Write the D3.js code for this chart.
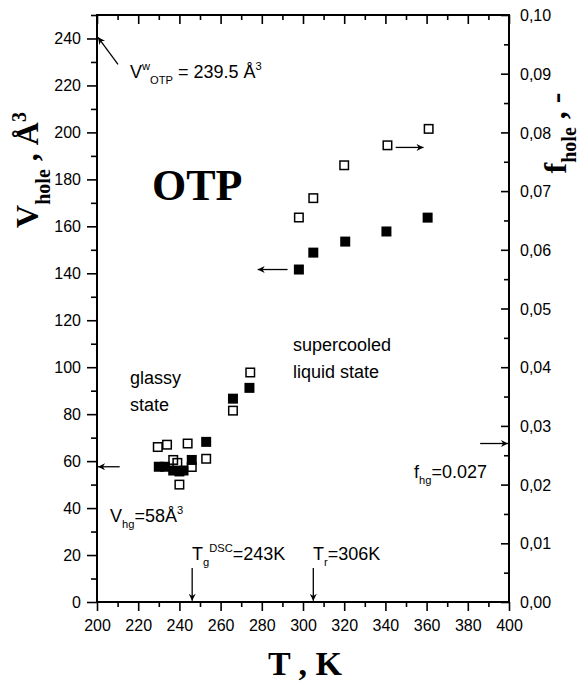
<!DOCTYPE html>
<html>
<head>
<meta charset="utf-8">
<script src="https://cdn.jsdelivr.net/npm/d3@7"></script>
<style>
  body { margin: 0; background: #fff; }
  svg text { font-family: Arial, "Liberation Sans", sans-serif; fill: #000; }
  .serif { font-family: "Times New Roman", "Liberation Serif", serif; font-weight: bold; }
</style>
</head>
<body>
<div id="chart"></div>
<script>
// ---- data ----
// filled squares: hole volume V_hole (left axis, Å^3)
const volT = [230, 233, 237, 240, 242, 246, 253, 266, 274, 298, 305, 320.5, 340.5, 360.5];
const volV = [57.6, 57.6, 56, 55.6, 56, 60.5, 68.2, 86.6, 91.2, 141.6, 148.8, 153.5, 157.8, 163.7];
// open squares: hole fraction f_hole (right axis)
const fracT = [229.5, 234, 244, 237, 239, 240, 246, 253, 266, 274.4, 298, 305, 320, 341, 361];
const fracF = [0.0264, 0.0268, 0.0270, 0.0242, 0.0237, 0.0200, 0.0230, 0.0244, 0.0326, 0.0391, 0.0655, 0.0688, 0.0744, 0.0778, 0.0806];

const xTicks = d3.range(200, 401, 20);
const yTicks = d3.range(0, 241, 20);
const fTicks = d3.range(0, 0.1001, 0.01);

const W = 580, H = 682;
const margin = { top: 15, right: 71, bottom: 80, left: 97 };

const svg = d3.select('#chart').append('svg')
    .attr('width', W).attr('height', H);

const x = d3.scaleLinear().domain([200, 400]).range([margin.left, W - margin.right]);
const y = d3.scaleLinear().domain([0, 250]).range([H - margin.bottom, margin.top]);
const yf = d3.scaleLinear().domain([0, 0.1]).range([H - margin.bottom, margin.top]);

// arrow head
svg.append('defs').append('marker')
    .attr('id', 'head')
    .attr('viewBox', '0 0 10 10')
    .attr('refX', 10).attr('refY', 5)
    .attr('markerWidth', 9).attr('markerHeight', 7)
    .attr('markerUnits', 'userSpaceOnUse')
    .attr('orient', 'auto')
    .append('path').attr('d', 'M0,0 L10,5 L0,10 L3,5 Z').attr('fill', '#000');

// ---- axes ----
const fmtComma = d => d3.format('.2f')(d).replace('.', ',');

const axBottom = svg.append('g')
    .attr('transform', `translate(0,${H - margin.bottom})`)
    .call(d3.axisBottom(x).tickValues(xTicks).tickSize(9).tickPadding(9));
svg.append('g')
    .attr('transform', `translate(0,${H - margin.bottom})`)
    .call(d3.axisBottom(x).tickValues(d3.range(210, 400, 20)).tickSize(5).tickFormat(''));

svg.append('g')
    .attr('transform', `translate(0,${margin.top})`)
    .call(d3.axisBottom(x).tickValues(xTicks).tickSize(9).tickFormat(''));
svg.append('g')
    .attr('transform', `translate(0,${margin.top})`)
    .call(d3.axisBottom(x).tickValues(d3.range(210, 400, 20)).tickSize(5).tickFormat(''));

const axLeft = svg.append('g')
    .attr('transform', `translate(${margin.left},0)`)
    .call(d3.axisLeft(y).tickValues(yTicks).tickSize(10).tickPadding(6));
svg.append('g')
    .attr('transform', `translate(${margin.left},0)`)
    .call(d3.axisLeft(y).tickValues(d3.range(10, 251, 20)).tickSize(6).tickFormat(''));

const axRight = svg.append('g')
    .attr('transform', `translate(${W - margin.right},0)`)
    .call(d3.axisLeft(yf).tickValues(fTicks).tickSize(8).tickFormat(''));
svg.append('g')
    .attr('transform', `translate(${W - margin.right},0)`)
    .call(d3.axisLeft(yf).tickValues(d3.range(0.005, 0.1, 0.01)).tickSize(5).tickFormat(''));
axRight.selectAll('.tick').append('text')
    .attr('x', 11).attr('dy', '0.35em')
    .attr('text-anchor', 'start')
    .style('font-size', '16px')
    .text(d => fmtComma(d));

svg.selectAll('.domain').remove();
svg.selectAll('.tick line').attr('stroke', '#000').attr('stroke-width', 1.6);
axBottom.selectAll('.tick text').style('font-size', '16px').style('font-family', 'Arial, "Liberation Sans", sans-serif');
axLeft.selectAll('.tick text').style('font-size', '16px').style('font-family', 'Arial, "Liberation Sans", sans-serif');

// frame
svg.append('rect')
    .attr('x', margin.left).attr('y', margin.top)
    .attr('width', W - margin.left - margin.right)
    .attr('height', H - margin.top - margin.bottom)
    .attr('fill', 'none').attr('stroke', '#000').attr('stroke-width', 2);

// ---- points ----
const s = 10;
svg.append('g').selectAll('rect')
    .data(volT.map((t, i) => [t, volV[i]]))
    .join('rect')
    .attr('x', d => x(d[0]) - s / 2).attr('y', d => y(d[1]) - s / 2)
    .attr('width', s).attr('height', s)
    .attr('fill', '#000');

svg.append('g').selectAll('rect')
    .data(fracT.map((t, i) => [t, fracF[i]]))
    .join('rect')
    .attr('x', d => x(d[0]) - (s - 1.5) / 2).attr('y', d => yf(d[1]) - (s - 1.5) / 2)
    .attr('width', s - 1.5).attr('height', s - 1.5)
    .attr('fill', 'none').attr('stroke', '#000').attr('stroke-width', 1.5);

// ---- arrows ----
const arrows = [
    [x(210.2), y(229), x(200.5), y(240.5)],
    [x(211), y(57.6), x(200.5), y(57.6)],
    [x(292.5), y(141.6), x(278), y(141.6)],
    [x(345), y(193.6), x(358.5), y(193.6)],
    [x(386), yf(0.027), x(399.5), yf(0.027)],
    [x(246.2), y(14.5), x(246.2), y(0.5)],
    [x(305), y(14.5), x(305), y(0.5)]
];
svg.append('g').selectAll('line')
    .data(arrows)
    .join('line')
    .attr('x1', d => d[0]).attr('y1', d => d[1])
    .attr('x2', d => d[2]).attr('y2', d => d[3])
    .attr('stroke', '#000').attr('stroke-width', 1.3)
    .attr('marker-end', 'url(#head)');

// ---- annotations ----
function rich(xp, yp, parts, size) {
    const t = svg.append('text').attr('x', xp).attr('y', yp).style('font-size', size + 'px');
    let shift = 0;
    parts.forEach(p => {
        const off = p.sub ? 6 : p.sup ? -8 : 0;
        t.append('tspan')
            .attr('dy', off - shift)
            .style('font-size', (p.sub || p.sup ? size * 0.62 : size) + 'px')
            .text(p.t);
        shift = off;
    });
    return t;
}

rich(130, 78, [{ t: 'V' }, { t: 'w', sup: true }, { t: 'OTP', sub: true }, { t: ' = 239.5 Å' }, { t: '3', sup: true }], 18);
rich(110, 522, [{ t: 'V' }, { t: 'hg', sub: true }, { t: '=58Å' }, { t: '3', sup: true }], 18);
rich(414, 478, [{ t: 'f' }, { t: 'hg', sub: true }, { t: '=0.027' }], 18);
rich(192, 560, [{ t: 'T' }, { t: 'g', sub: true }, { t: 'DSC', sup: true }, { t: '=243K' }], 18);
rich(313, 560, [{ t: 'T' }, { t: 'r', sub: true }, { t: '=306K' }], 18);

svg.append('text').attr('x', 130).attr('y', 384).style('font-size', '18px').text('glassy');
svg.append('text').attr('x', 130).attr('y', 411).style('font-size', '18px').text('state');
svg.append('text').attr('x', 293).attr('y', 351).style('font-size', '18px').text('supercooled');
svg.append('text').attr('x', 293).attr('y', 378).style('font-size', '18px').text('liquid state');

svg.append('text').attr('class', 'serif').attr('x', 152).attr('y', 200)
    .style('font-size', '44px').text('OTP');

// axis titles
svg.append('text').attr('class', 'serif')
    .attr('x', 305).attr('y', 675).attr('text-anchor', 'middle')
    .style('font-size', '34px').text('T , K');

const lt = svg.append('text').attr('class', 'serif')
    .attr('transform', 'translate(38,170) rotate(-90)')
    .attr('text-anchor', 'middle').style('font-size', '32px');
lt.append('tspan').text('V');
lt.append('tspan').attr('dy', 12).style('font-size', '20px').text('hole');
lt.append('tspan').attr('dy', -12).text(' , Å');
lt.append('tspan').attr('dy', -12).style('font-size', '20px').text('3');

const rt = svg.append('text').attr('class', 'serif')
    .attr('transform', 'translate(566,133) rotate(-90)')
    .attr('text-anchor', 'middle').style('font-size', '32px');
rt.append('tspan').text('f');
rt.append('tspan').attr('dy', 10).style('font-size', '20px').text('hole');
rt.append('tspan').attr('dy', -10).text(' , -');
</script>
</body>
</html>
